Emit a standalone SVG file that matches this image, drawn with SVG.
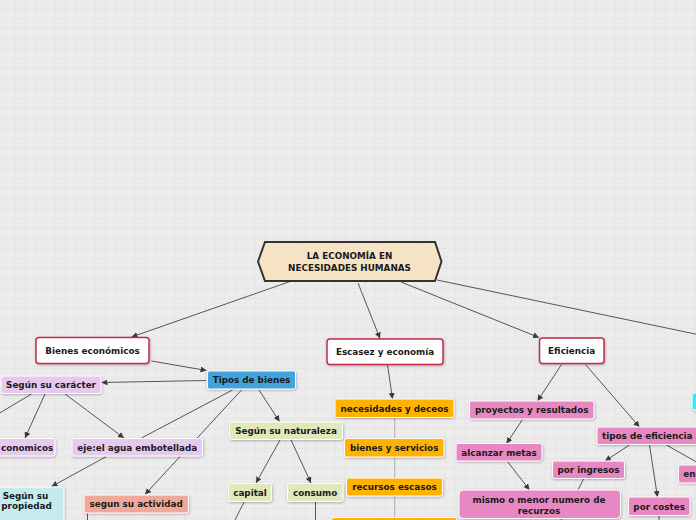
<svg xmlns="http://www.w3.org/2000/svg" width="696" height="520" viewBox="0 0 696 520">
<defs>
<pattern id="grid" width="10" height="10" patternUnits="userSpaceOnUse" x="0" y="0">
<rect width="10" height="10" fill="#ececec"/>
<path d="M5 0V10M0 8.3H10" stroke="#e2e2e2" stroke-width="0.8" fill="none"/>
</pattern>
<marker id="arr" viewBox="0 0 10 10" refX="10" refY="5" markerWidth="6" markerHeight="6" markerUnits="userSpaceOnUse" orient="auto">
<path d="M0 0L10 5L0 10z" fill="#3a3a3a"/>
</marker>
<filter id="sh" x="-10%" y="-20%" width="120%" height="150%">
<feDropShadow dx="0.6" dy="1" stdDeviation="0.8" flood-color="#000" flood-opacity="0.28"/>
</filter>
<style>
text{font-family:"DejaVu Sans","Verdana",sans-serif;font-weight:bold;font-size:8.8px;fill:#1a1a1a;text-anchor:middle}
.n{stroke:#ffffff;stroke-width:1;filter:url(#sh)}
.w{fill:#ffffff;stroke:#c42a4c;stroke-width:1.5;filter:url(#sh)}
.c line,.c path{stroke:#444;stroke-width:0.9;fill:none}
.c .a{marker-end:url(#arr)}
.c .g{stroke:#a9a9a9}
.lav{fill:#e5c9ee}.grn{fill:#dfe9bb}.org{fill:#ffb300}.pnk{fill:#e888c2}
</style>
</defs>
<rect width="696" height="520" fill="url(#grid)"/>

<g id="connectors" class="c">
<line class="a" x1="290" y1="281.5" x2="131.5" y2="337"/>
<line class="a" x1="358" y1="283" x2="380" y2="338.5"/>
<line class="a" x1="401" y1="282" x2="539" y2="337.5"/>
<line x1="437" y1="280" x2="700" y2="335"/>
<line class="a" x1="151.5" y1="361" x2="206.5" y2="370.5"/>
<line class="a" x1="206" y1="380.5" x2="101.5" y2="382.5"/>
<line x1="232.5" y1="390" x2="141.5" y2="438"/>
<line class="a" x1="241.5" y1="390" x2="145" y2="494.5"/>
<line class="a" x1="259" y1="390" x2="279.5" y2="421.5"/>
<line x1="31.5" y1="394" x2="-2" y2="414"/>
<line class="a" x1="45" y1="394" x2="25" y2="438"/>
<line class="a" x1="65" y1="394" x2="124" y2="438"/>
<line class="a" x1="106.5" y1="456.5" x2="51.5" y2="486.5"/>
<line x1="87.5" y1="513" x2="87.5" y2="522"/>
<line class="a" x1="280" y1="440" x2="256" y2="483"/>
<line class="a" x1="291" y1="440" x2="311" y2="483"/>
<line x1="244" y1="502" x2="234" y2="522"/>
<line x1="315.5" y1="502" x2="315.5" y2="522"/>
<line class="a" x1="387.5" y1="365" x2="392.5" y2="399"/>
<line class="g" x1="394.7" y1="417.5" x2="394.7" y2="438.5"/>
<line class="g" x1="394.7" y1="457" x2="394.7" y2="478"/>
<line class="g" x1="394.7" y1="496" x2="394.7" y2="517.5"/>
<line class="a" x1="561.5" y1="364.5" x2="537.5" y2="401"/>
<line class="a" x1="585.5" y1="364.5" x2="639.5" y2="427"/>
<line class="a" x1="522.5" y1="419.5" x2="506.5" y2="443.5"/>
<line class="a" x1="507.5" y1="461.5" x2="529.5" y2="490"/>
<line class="a" x1="629.5" y1="445" x2="605" y2="461"/>
<line x1="583.5" y1="479" x2="577" y2="492"/>
<line class="a" x1="649.5" y1="445" x2="657.5" y2="497"/>
<line x1="666.5" y1="445" x2="700" y2="464"/>
<line x1="659" y1="515.5" x2="659" y2="522"/>
<line x1="561.5" y1="518.5" x2="561" y2="522"/>
</g>

<g id="n-central">
<polygon points="258,261.5 265,242 435,242 441.5,261.5 435,281 265,281" fill="#f5e3c4" stroke="#333" stroke-width="2"/>
<text x="349.5" y="259.3">LA ECONOMÍA EN</text>
<text x="349.5" y="270.8">NECESIDADES HUMANAS</text>
</g>
<g id="n-bienes"><rect class="w" x="36" y="337.5" width="113" height="26" rx="3"/><text x="92.5" y="353.8">Bienes económicos</text></g>
<g id="n-escasez"><rect class="w" x="327" y="339" width="116" height="25.5" rx="3"/><text x="385" y="355">Escasez y economía</text></g>
<g id="n-eficiencia"><rect class="w" x="539.5" y="338" width="64.5" height="25.5" rx="3"/><text x="571.7" y="354">Eficiencia</text></g>
<g id="n-tipos-bienes"><rect class="n" x="207.5" y="371" width="88" height="18" rx="2" fill="#3fa3dd"/><text x="251.5" y="383.2">Tipos de bienes</text></g>
<g id="n-caracter"><rect class="n lav" x="1" y="376" width="100" height="17.5" rx="2"/><text x="51" y="388">Según su carácter</text></g>
<g id="n-economicos"><rect class="n lav" x="-20" y="438.5" width="75" height="17.5" rx="2"/><text x="1" y="450.8" style="text-anchor:start">conomicos</text></g>
<g id="n-eje"><rect class="n lav" x="72" y="438.5" width="130.5" height="17.5" rx="2"/><text x="137.2" y="450.8">eje:el agua embotellada</text></g>
<g id="n-naturaleza"><rect class="n grn" x="229.5" y="422" width="113" height="17.5" rx="2"/><text x="286" y="434.3">Según su naturaleza</text></g>
<g id="n-propiedad"><rect class="n" x="-20" y="487" width="84" height="40" rx="3" fill="#c5ebef"/><text x="25.5" y="498.5">Según su</text><text x="26.5" y="509">propiedad</text></g>
<g id="n-actividad"><rect class="n" x="84" y="495" width="104.5" height="18" rx="2" fill="#f0a999"/><text x="136.2" y="507.3">segun su actividad</text></g>
<g id="n-capital"><rect class="n grn" x="228.5" y="483.5" width="43" height="18" rx="2"/><text x="250" y="496">capital</text></g>
<g id="n-consumo"><rect class="n grn" x="287.5" y="483.5" width="55.5" height="18" rx="2"/><text x="315.2" y="496">consumo</text></g>
<g id="n-necesidades"><rect class="n org" x="335" y="399" width="119" height="18.5" rx="2"/><text x="394.5" y="411.5">necesidades y deceos</text></g>
<g id="n-bys"><rect class="n org" x="344.5" y="438.5" width="99.5" height="18.5" rx="2"/><text x="394.2" y="451">bienes y servicios</text></g>
<g id="n-recursos"><rect class="n org" x="346.5" y="478" width="96" height="18" rx="2"/><text x="394.5" y="490.3">recursos escasos</text></g>
<g id="n-orange-bottom"><rect class="n org" x="331.7" y="517.5" width="125" height="20" rx="2"/></g>
<g id="n-proyectos"><rect class="n pnk" x="469.5" y="401" width="124.5" height="18" rx="2"/><text x="531.7" y="413.2">proyectos y resultados</text></g>
<g id="n-tipos-ef"><rect class="n pnk" x="597" y="427" width="100" height="17.5" rx="2"/><text x="647.2" y="439.3">tipos de eficiencia</text></g>
<g id="n-alcanzar"><rect class="n pnk" x="456" y="443.5" width="86" height="17.5" rx="2"/><text x="499" y="455.7">alcanzar metas</text></g>
<g id="n-ingresos"><rect class="n pnk" x="552.5" y="461" width="72" height="17.5" rx="2"/><text x="588.5" y="473.2">por ingresos</text></g>
<g id="n-mismo"><rect class="n pnk" x="459" y="490" width="161.5" height="28.5" rx="4"/><text x="539" y="502.5">mismo o menor numero de</text><text x="539" y="513.5">recurzos</text></g>
<g id="n-costes"><rect class="n pnk" x="628.5" y="497" width="61.5" height="18.5" rx="2"/><text x="659.2" y="509.5">por costes</text></g>
<g id="n-en"><rect class="n pnk" x="678.5" y="465" width="30" height="18" rx="2"/><text x="683.3" y="477.3" style="text-anchor:start">en</text></g>
<g id="n-cyan"><rect class="n" x="692" y="393" width="20" height="17" rx="2" fill="#3ee6f2"/></g>
</svg>
